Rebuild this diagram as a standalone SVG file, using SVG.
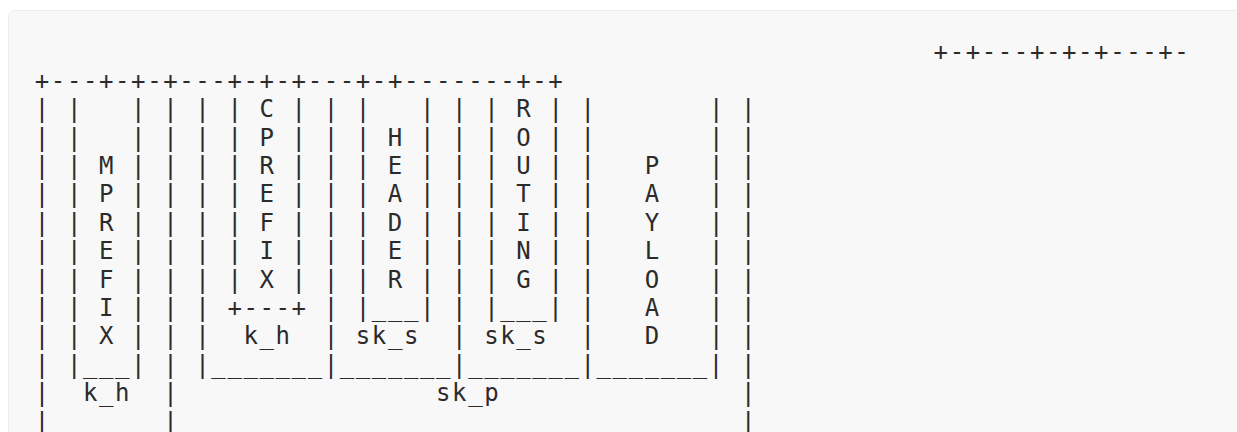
<svg xmlns="http://www.w3.org/2000/svg" width="1237" height="432" viewBox="0 0 1237 432">
<style>
.t{font-family:"DejaVu Sans Mono","Liberation Mono",monospace;font-size:24px;fill:#2b2b2b;letter-spacing:1.6px;white-space:pre}
.v{font-family:"DejaVu Sans Mono","Liberation Mono",monospace;font-size:24px;fill:#2b2b2b;text-anchor:middle}
</style>
<rect x="0" y="0" width="1237" height="432" fill="#ffffff"/>
<rect x="8.5" y="10.5" width="1260" height="460" rx="6" fill="#f8f8f8" stroke="#ececec"/>
<g id="connectors">
<text class="t" xml:space="preserve" x="933.6" y="60.3">+-+---+-+-+---+-</text>
<text class="t" xml:space="preserve" x="34.8" y="88.7">+---+-+-+---+-+-+---+-+-------+-+</text>
<g id="rows-2-8">
<text class="t" x="34.8" y="117.1">| |</text><text class="t" xml:space="preserve" x="131.1" y="117.1">| | | |</text><text class="t" xml:space="preserve" x="291.6" y="117.1">| | |</text><text class="t" xml:space="preserve" x="420" y="117.1">| | |</text><text class="t" x="548.4" y="117.1">| |</text><text class="t" x="708.9" y="117.1">| |</text>
<text class="t" x="34.8" y="145.5">| |</text><text class="t" xml:space="preserve" x="131.1" y="145.5">| | | |</text><text class="t" xml:space="preserve" x="291.6" y="145.5">| | |</text><text class="t" xml:space="preserve" x="420" y="145.5">| | |</text><text class="t" x="548.4" y="145.5">| |</text><text class="t" x="708.9" y="145.5">| |</text>
<text class="t" x="34.8" y="173.9">| |</text><text class="t" xml:space="preserve" x="131.1" y="173.9">| | | |</text><text class="t" xml:space="preserve" x="291.6" y="173.9">| | |</text><text class="t" xml:space="preserve" x="420" y="173.9">| | |</text><text class="t" x="548.4" y="173.9">| |</text><text class="t" x="708.9" y="173.9">| |</text>
<text class="t" x="34.8" y="202.3">| |</text><text class="t" xml:space="preserve" x="131.1" y="202.3">| | | |</text><text class="t" xml:space="preserve" x="291.6" y="202.3">| | |</text><text class="t" xml:space="preserve" x="420" y="202.3">| | |</text><text class="t" x="548.4" y="202.3">| |</text><text class="t" x="708.9" y="202.3">| |</text>
<text class="t" x="34.8" y="230.7">| |</text><text class="t" xml:space="preserve" x="131.1" y="230.7">| | | |</text><text class="t" xml:space="preserve" x="291.6" y="230.7">| | |</text><text class="t" xml:space="preserve" x="420" y="230.7">| | |</text><text class="t" x="548.4" y="230.7">| |</text><text class="t" x="708.9" y="230.7">| |</text>
<text class="t" x="34.8" y="259.1">| |</text><text class="t" xml:space="preserve" x="131.1" y="259.1">| | | |</text><text class="t" xml:space="preserve" x="291.6" y="259.1">| | |</text><text class="t" xml:space="preserve" x="420" y="259.1">| | |</text><text class="t" x="548.4" y="259.1">| |</text><text class="t" x="708.9" y="259.1">| |</text>
<text class="t" x="34.8" y="287.5">| |</text><text class="t" xml:space="preserve" x="131.1" y="287.5">| | | |</text><text class="t" xml:space="preserve" x="291.6" y="287.5">| | |</text><text class="t" xml:space="preserve" x="420" y="287.5">| | |</text><text class="t" x="548.4" y="287.5">| |</text><text class="t" x="708.9" y="287.5">| |</text>
</g>
<text class="t" x="34.8" y="315.9">| |</text><text class="t" xml:space="preserve" x="131.1" y="315.9">| | | +---+ | |___| | |___| |</text><text class="t" x="708.9" y="315.9">| |</text>
<text class="t" x="34.8" y="344.3">| |</text><text class="t" xml:space="preserve" x="131.1" y="344.3">| | |</text><text class="t" x="323.7" y="344.3">|</text><text class="t" x="452.1" y="344.3">|</text><text class="t" x="580.5" y="344.3">|</text><text class="t" x="708.9" y="344.3">| |</text>
<text class="t" xml:space="preserve" x="34.8" y="372.7">| |___| | |_______|_______|_______|_______| |</text>
<text class="t" x="34.8" y="401.1">|</text><text class="t" x="163.2" y="401.1">|</text><text class="t" x="741" y="401.1">|</text>
<text class="t" x="34.8" y="429.5">|</text><text class="t" x="163.2" y="429.5">|</text><text class="t" x="741" y="429.5">|</text>
</g>
<g id="mprefix">
<text class="v" x="106.2" y="173.9"><tspan x="106.2">M</tspan><tspan x="106.2" dy="28.4">P</tspan><tspan x="106.2" dy="28.4">R</tspan><tspan x="106.2" dy="28.4">E</tspan><tspan x="106.2" dy="28.4">F</tspan><tspan x="106.2" dy="28.4">I</tspan><tspan x="106.2" dy="28.4">X</tspan></text>
<text class="t" x="82.95" y="401.1">k_h</text>
</g>
<g id="cprefix">
<text class="v" x="266.7" y="117.1"><tspan x="266.7">C</tspan><tspan x="266.7" dy="28.4">P</tspan><tspan x="266.7" dy="28.4">R</tspan><tspan x="266.7" dy="28.4">E</tspan><tspan x="266.7" dy="28.4">F</tspan><tspan x="266.7" dy="28.4">I</tspan><tspan x="266.7" dy="28.4">X</tspan></text>
<text class="t" x="243.45" y="344.3">k_h</text>
</g>
<g id="header">
<text class="v" x="395.1" y="145.5"><tspan x="395.1">H</tspan><tspan x="395.1" dy="28.4">E</tspan><tspan x="395.1" dy="28.4">A</tspan><tspan x="395.1" dy="28.4">D</tspan><tspan x="395.1" dy="28.4">E</tspan><tspan x="395.1" dy="28.4">R</tspan></text>
<text class="t" x="355.8" y="344.3">sk_s</text>
</g>
<g id="routing">
<text class="v" x="523.5" y="117.1"><tspan x="523.5">R</tspan><tspan x="523.5" dy="28.4">O</tspan><tspan x="523.5" dy="28.4">U</tspan><tspan x="523.5" dy="28.4">T</tspan><tspan x="523.5" dy="28.4">I</tspan><tspan x="523.5" dy="28.4">N</tspan><tspan x="523.5" dy="28.4">G</tspan></text>
<text class="t" x="484.2" y="344.3">sk_s</text>
</g>
<g id="payload">
<text class="v" x="651.9" y="173.9"><tspan x="651.9">P</tspan><tspan x="651.9" dy="28.4">A</tspan><tspan x="651.9" dy="28.4">Y</tspan><tspan x="651.9" dy="28.4">L</tspan><tspan x="651.9" dy="28.4">O</tspan><tspan x="651.9" dy="28.4">A</tspan><tspan x="651.9" dy="28.4">D</tspan></text>
</g>
<g id="sk_p">
<text class="t" x="436.05" y="401.1">sk_p</text>
</g>
</svg>
